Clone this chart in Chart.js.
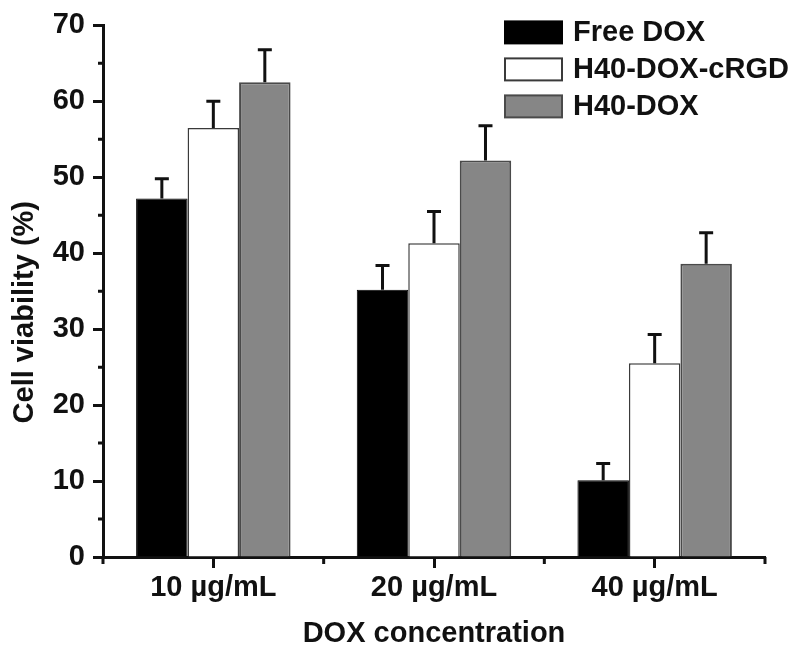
<!DOCTYPE html>
<html>
<head>
<meta charset="utf-8">
<script src="https://cdn.jsdelivr.net/npm/chart.js@4"></script>
<style>
  html, body { margin: 0; padding: 0; background: #fff; }
</style>
</head>
<body>
<canvas id="chart" width="800" height="653"></canvas>
<script>
const concentrations = ["10 µg/mL", "20 µg/mL", "40 µg/mL"];
const seriesNames = ["Free DOX", "H40-DOX-cRGD", "H40-DOX"];
const freeDox = [47.2, 35.2, 10.1];
const freeDoxErr = [2.6, 3.2, 2.2];
const doxRgd = [56.5, 41.3, 25.5];
const doxRgdErr = [3.5, 4.2, 3.8];
const h40Dox = [62.5, 52.2, 38.6];
const h40DoxErr = [4.3, 4.6, 4.1];
const yTicks = [0, 10, 20, 30, 40, 50, 60, 70];
const yMinorTicks = [5, 15, 25, 35, 45, 55, 65];
const yTitle = "Cell viability (%)";
const xTitle = "DOX concentration";

const FONT = "'Liberation Sans', Arial, sans-serif";
const SIZE = 29;
const ink = "#111";

// upward error bars, drawn from the bar elements and the y scale
const errorBars = {
  id: "errorBars",
  afterDatasetsDraw(chart) {
    const ctx = chart.ctx;
    const y = chart.scales.y;
    ctx.save();
    ctx.strokeStyle = ink;
    ctx.lineWidth = 3;
    chart.data.datasets.forEach((ds, di) => {
      const meta = chart.getDatasetMeta(di);
      meta.data.forEach((bar, i) => {
        const top = y.getPixelForValue(ds.data[i] + ds.errors[i]);
        ctx.beginPath();
        ctx.moveTo(bar.x, bar.y);
        ctx.lineTo(bar.x, top);
        ctx.moveTo(bar.x - 7, top);
        ctx.lineTo(bar.x + 7, top);
        ctx.stroke();
      });
    });
    ctx.restore();
  }
};

// minor ticks on both axes + y title (sits a bit below the axis middle)
const minorTicks = {
  id: "minorTicks",
  afterDraw(chart) {
    const ctx = chart.ctx;
    const x = chart.scales.x;
    const y = chart.scales.y;
    const area = chart.chartArea;
    ctx.save();
    ctx.strokeStyle = ink;
    ctx.lineWidth = 3;
    ctx.beginPath();
    yMinorTicks.forEach(v => {
      const py = y.getPixelForValue(v);
      ctx.moveTo(area.left - 5, py);
      ctx.lineTo(area.left, py);
    });
    for (let i = 0; i <= concentrations.length; i++) {
      const px = x.getPixelForValue(i - 0.5);
      ctx.moveTo(px, area.bottom);
      ctx.lineTo(px, area.bottom + 7);
    }
    ctx.stroke();

    ctx.translate(25, (area.top + area.bottom) / 2 + 21);
    ctx.rotate(-Math.PI / 2);
    ctx.font = "bold " + SIZE + "px " + FONT;
    ctx.fillStyle = ink;
    ctx.textAlign = "center";
    ctx.textBaseline = "middle";
    ctx.fillText(yTitle, 0, 0);
    ctx.restore();
  }
};

// legend inside the plot, top right
const boxLegend = {
  id: "boxLegend",
  afterDraw(chart) {
    const ctx = chart.ctx;
    const area = chart.chartArea;
    const left = area.right - 260;
    ctx.save();
    ctx.font = "bold " + SIZE + "px " + FONT;
    ctx.textBaseline = "middle";
    chart.data.datasets.forEach((ds, i) => {
      const top = area.top - 4 + i * 37;
      ctx.fillStyle = ds.backgroundColor;
      ctx.fillRect(left, top, 57, 22);
      ctx.strokeStyle = ds.borderColor;
      ctx.lineWidth = 2;
      ctx.strokeRect(left, top, 57, 22);
      ctx.fillStyle = ink;
      ctx.fillText(ds.label, left + 68, top + 12);
    });
    ctx.restore();
  }
};

const tickFont = { family: FONT, size: SIZE, weight: "bold" };

const chartCtx = document.getElementById("chart").getContext("2d");
const chart = new Chart(chartCtx, {
  type: "bar",
  data: {
    labels: concentrations,
    datasets: [
      { label: seriesNames[0], data: freeDox, errors: freeDoxErr,
        backgroundColor: "#000000", borderColor: "#000000", borderWidth: 1 },
      { label: seriesNames[1], data: doxRgd, errors: doxRgdErr,
        backgroundColor: "#ffffff", borderColor: "#3a3a3a", borderWidth: 1.5 },
      { label: seriesNames[2], data: h40Dox, errors: h40DoxErr,
        backgroundColor: "#868686", borderColor: "#4a4a4a", borderWidth: 2 }
    ]
  },
  options: {
    responsive: false,
    devicePixelRatio: 1,
    animation: false,
    layout: { padding: { left: 0, right: 35, top: 24, bottom: 0 } },
    datasets: { bar: { categoryPercentage: 0.7, barPercentage: 1.0 } },
    plugins: {
      legend: { display: false },
      tooltip: { enabled: false }
    },
    scales: {
      x: {
        afterFit(scale) { scale.height = 96; },
        grid: { display: true, offset: false, drawOnChartArea: false, tickLength: 11, tickWidth: 3, tickColor: ink },
        border: { color: ink, width: 3 },
        ticks: { color: ink, padding: 3, font: tickFont },
        title: { display: true, text: xTitle, color: ink, padding: { top: 6, bottom: 2 }, font: tickFont }
      },
      y: {
        min: 0,
        max: 70,
        afterFit(scale) { scale.width = 103; },
        afterBuildTicks(scale) { scale.ticks = yTicks.map(v => ({ value: v })); },
        grid: { display: true, drawOnChartArea: false, tickLength: 10, tickWidth: 3, tickColor: ink },
        border: { color: ink, width: 3 },
        ticks: { color: ink, padding: 8, font: tickFont },
        title: { display: false, text: yTitle }
      }
    }
  },
  plugins: [errorBars, minorTicks, boxLegend]
});
</script>
</body>
</html>
